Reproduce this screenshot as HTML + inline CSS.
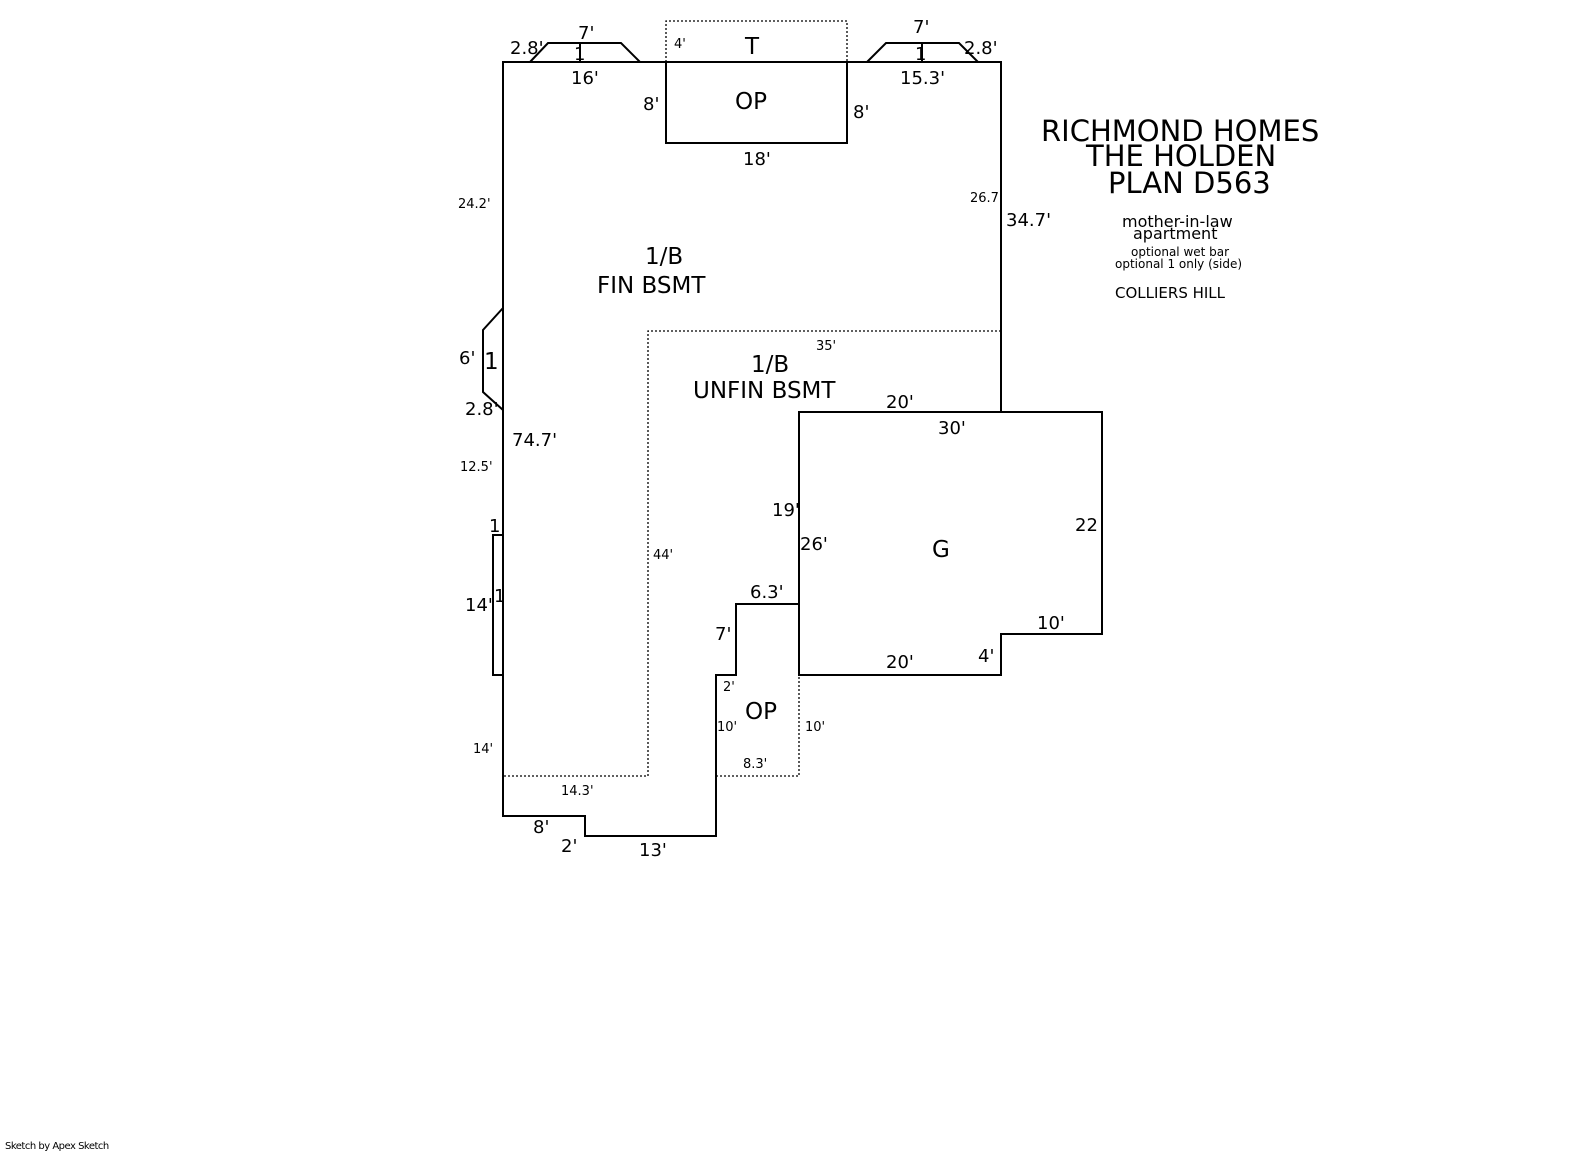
<!DOCTYPE html>
<html><head><style>
html,body{margin:0;padding:0;background:#fff;}
svg{display:block;}
text{font-family:"DejaVu Sans","Liberation Sans",sans-serif;fill:#000;}
.m{font-size:18px;}
.s{font-size:13px;}
.l{font-size:23px;}
</style></head><body>
<svg width="1585" height="1163" viewBox="0 0 1585 1163" xmlns="http://www.w3.org/2000/svg">
<g fill="none" stroke="#000" stroke-width="2">
<polyline points="666,62 503,62 503,816 585,816 585,836 716,836 716,675 736,675 736,604 799,604 799,412 1001,412 1001,62 847,62"/>
<rect x="666" y="62" width="181" height="81"/>
<polyline points="799,412 1102,412 1102,634 1001,634 1001,675 799,675 799,604"/>
<polyline points="530,62 548,43 621,43 640,62"/>
<line x1="580" y1="43" x2="580" y2="62"/>
<polyline points="867,62 886,43 959,43 978,62"/>
<line x1="922" y1="43" x2="922" y2="62"/>
<polyline points="503,308 483,330 483,392 503,410"/>
<polyline points="503,535 493,535 493,675 503,675"/>
</g>
<g fill="none" stroke="#000" stroke-width="1.3" stroke-dasharray="2,2">
<polyline points="666,62 666,21 847,21 847,62"/>
<line x1="666" y1="62" x2="847" y2="62"/>
<polyline points="1001,331 648,331 648,776 503,776"/>
<polyline points="716,776 799,776 799,675"/>
</g>
<text class="m" x="510" y="54">2.8'</text>
<text class="m" x="578" y="39">7'</text>
<text class="m" x="574" y="60">1</text>
<text class="m" x="571" y="84">16'</text>
<text class="s" x="674" y="48">4'</text>
<text class="l" x="745" y="54">T</text>
<text class="l" x="735" y="109">OP</text>
<text class="m" x="643" y="110">8'</text>
<text class="m" x="853" y="118">8'</text>
<text class="m" x="743" y="165">18'</text>
<text class="m" x="913" y="33">7'</text>
<text class="m" x="915" y="60">1</text>
<text class="m" x="964" y="54">2.8'</text>
<text class="m" x="900" y="84">15.3'</text>
<text class="s" x="458" y="208">24.2'</text>
<text class="s" x="970" y="202">26.7'</text>
<text class="m" x="1006" y="226">34.7'</text>
<text class="l" x="645" y="264">1/B</text>
<text class="l" x="597" y="293">FIN BSMT</text>
<text class="s" x="816" y="350">35'</text>
<text class="l" x="751" y="372">1/B</text>
<text class="l" x="693" y="398">UNFIN BSMT</text>
<text class="m" x="459" y="364">6'</text>
<text class="l" x="484" y="369">1</text>
<text class="m" x="465" y="415">2.8'</text>
<text class="m" x="512" y="446">74.7'</text>
<text class="s" x="460" y="471">12.5'</text>
<text class="m" x="489" y="532">1</text>
<text class="m" x="494" y="602">1</text>
<text class="m" x="465" y="611">14'</text>
<text class="s" x="653" y="559">44'</text>
<text class="m" x="886" y="408">20'</text>
<text class="m" x="938" y="434">30'</text>
<text class="m" x="772" y="516">19'</text>
<text class="m" x="800" y="550">26'</text>
<text class="l" x="932" y="557">G</text>
<text class="m" x="1075" y="531">22</text>
<text class="m" x="750" y="598">6.3'</text>
<text class="m" x="1037" y="629">10'</text>
<text class="m" x="715" y="640">7'</text>
<text class="m" x="886" y="668">20'</text>
<text class="m" x="978" y="662">4'</text>
<text class="s" x="723" y="691">2'</text>
<text class="l" x="745" y="719">OP</text>
<text class="s" x="717" y="731">10'</text>
<text class="s" x="805" y="731">10'</text>
<text class="s" x="473" y="753">14'</text>
<text class="s" x="743" y="768">8.3'</text>
<text class="s" x="561" y="795">14.3'</text>
<text class="m" x="533" y="833">8'</text>
<text class="m" x="561" y="852">2'</text>
<text class="m" x="639" y="856">13'</text>
<text x="1041" y="141" style="font-size:29px">RICHMOND HOMES</text>
<text x="1086" y="166" style="font-size:29px">THE HOLDEN</text>
<text x="1108" y="193" style="font-size:29px">PLAN D563</text>
<text x="1122" y="227" style="font-size:16px">mother-in-law</text>
<text x="1133" y="239" style="font-size:16px">apartment</text>
<text x="1131" y="256" style="font-size:12px">optional wet bar</text>
<text x="1115" y="268" style="font-size:12px">optional 1 only (side)</text>
<text x="1115" y="298" style="font-size:15px">COLLIERS HILL</text>
<text x="5" y="1149" style="font-size:10px;letter-spacing:-0.5px">Sketch by Apex Sketch</text>
</svg>
</body></html>
